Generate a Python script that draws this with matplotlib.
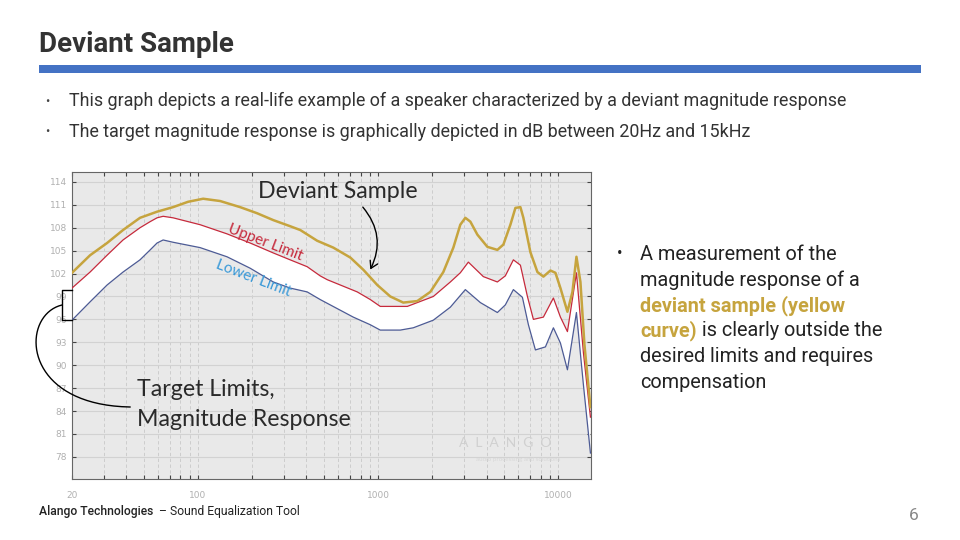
import numpy as np
import matplotlib.pyplot as plt
from matplotlib.patches import FancyArrowPatch
from matplotlib.ticker import FixedLocator, NullFormatter

# deviant sample (yellow curve)
dev_freq = [20, 25.2, 31.3, 38.4, 47.7, 59.3, 72.8, 88.2, 106.9, 132.8,
            171.5, 213, 262, 325, 370, 459, 564, 701, 828, 990,
            1169, 1380, 1650, 1950, 2302, 2617, 2860, 3050, 3252, 3557,
            4042, 4593, 4960, 5426, 5785, 6166, 6405, 7006, 7663, 8272,
            9048, 9648, 10284, 11246, 11990, 12619, 13280, 13976, 15092]
dev_db = [102.1, 104.4, 106.0, 107.7, 109.3, 110.1, 110.7, 111.4, 111.8, 111.5,
          110.7, 109.9, 109.0, 108.2, 107.7, 106.3, 105.4, 104.1, 102.5, 100.5,
          99.0, 98.2, 98.4, 99.6, 102.2, 105.4, 108.4, 109.3, 108.8, 107.1,
          105.5, 105.1, 105.8, 108.4, 110.6, 110.7, 109.3, 104.8, 102.2, 101.6,
          102.4, 102.1, 100.1, 97.0, 99.6, 104.2, 100.9, 92.7, 84.5]

# upper limit (red)
up_freq = [20, 25.2, 31.3, 38.4, 47.7, 54.3, 59.3, 64.1, 72.8, 102.8,
           145, 195, 262, 325, 404, 477, 522, 766, 905, 1028,
           1453, 2026, 2518, 2860, 3170, 3840, 4593, 5086, 5636, 6166,
           6744, 7280, 8272, 9400, 10284, 11246, 12619, 13800, 15092]
up_db = [100.1, 102.2, 104.4, 106.4, 108.0, 108.8, 109.3, 109.5, 109.3, 108.4,
         107.2, 106.0, 104.7, 103.8, 102.9, 101.7, 101.2, 99.6, 98.6, 97.7,
         97.7, 99.0, 100.9, 102.1, 103.5, 101.6, 100.9, 101.7, 103.8, 103.1,
         99.0, 96.0, 96.3, 98.8, 96.3, 94.4, 102.1, 91.6, 83.2]

# lower limit (blue)
low_freq = [20, 25.2, 31.3, 38.4, 47.7, 54.3, 59.3, 64.1, 72.8, 102.8,
            145, 195, 262, 325, 404, 477, 728, 905, 1028, 1328,
            1568, 2026, 2518, 3050, 3696, 4593, 5086, 5636, 6325, 6830,
            7470, 8490, 9400, 10284, 11246, 12619, 13800, 15092]
low_db = [95.9, 98.3, 100.5, 102.2, 103.8, 105.1, 106.0, 106.4, 106.1, 105.4,
          104.2, 102.7, 100.9, 100.1, 99.6, 98.6, 96.3, 95.3, 94.6, 94.6,
          94.9, 95.9, 97.6, 99.9, 98.2, 96.9, 97.9, 99.9, 98.9, 95.3,
          92.0, 92.4, 94.9, 92.9, 89.4, 96.9, 87.4, 78.5]

y_ticks = [78, 81, 84, 87, 90, 93, 96, 99, 102, 105, 108, 111, 114]
x_ticks = [20, 100, 1000, 10000]
x_labels = ['20', '100', '1000', '10000']

YELLOW = '#c6a43e'
RED = '#c62a3c'
BLUE = '#4d5b95'

W, H = 960, 540
fig = plt.figure(figsize=(9.6, 5.4), dpi=100)
fig.patch.set_facecolor('white')

# ---- chart ----
ax = fig.add_axes([72 / W, (H - 479) / H, 519 / W, 307 / H])
ax.set_facecolor('#e9e9e9')
ax.set_xscale('log')
ax.set_xlim(20, 15200)
ax.set_ylim(75.1, 115.3)

# white band between the limits
ax.fill(np.concatenate([up_freq, low_freq[::-1]]),
        np.concatenate([up_db, low_db[::-1]]), color='white', lw=0, zorder=1)
ax.plot(up_freq, up_db, color=RED, lw=0.9, zorder=3)
ax.plot(low_freq, low_db, color=BLUE, lw=0.9, zorder=3)
ax.plot(dev_freq, dev_db, color=YELLOW, lw=1.8, zorder=4)

ax.set_yticks(y_ticks)
ax.set_yticklabels([str(t) for t in y_ticks])
ax.set_xticks(x_ticks)
ax.set_xticklabels(x_labels)
minor = [m * d for d in (10, 100, 1000) for m in range(2, 10) if 20 < m * d < 15200]
ax.xaxis.set_minor_locator(FixedLocator(minor))
ax.xaxis.set_minor_formatter(NullFormatter())
ax.tick_params(axis='both', which='both', direction='in', top=True, right=True,
               colors='#444', labelcolor='#b0b0b0', labelsize=6.5, length=3, width=0.8)
ax.tick_params(axis='x', which='major', pad=9)
ax.grid(axis='y', which='major', color='#d2d2d2', lw=0.8, zorder=0)
ax.grid(axis='x', which='both', color='#c8c8c8', lw=0.6, ls=(0, (4, 3)), zorder=0)
ax.set_axisbelow(True)
for s in ax.spines.values():
    s.set_color('#666')
    s.set_linewidth(0.8)

# ---- overlay in pixel coords for annotations and slide text ----
ov = fig.add_axes([0, 0, 1, 1], zorder=10)
ov.set_xlim(0, W)
ov.set_ylim(H, 0)
ov.axis('off')
ov.patch.set_alpha(0)

cal = ['Lato', 'DejaVu Sans']
ov.text(338, 192, 'Deviant Sample', fontsize=16.7, color='#2a2a2a', family=cal,
        ha='center', va='center')
ov.text(265, 243, 'Upper Limit', fontsize=11, color=RED, family=cal,
        ha='center', va='center', rotation=-21)
ov.text(253, 278, 'Lower Limit', fontsize=11, color='#3b9ad8', family=cal,
        ha='center', va='center', rotation=-21)
ov.text(137, 390, 'Target Limits,', fontsize=16.7, color='#2a2a2a', family=cal,
        ha='left', va='center')
ov.text(137, 419, 'Magnitude Response', fontsize=16.7, color='#2a2a2a', family=cal,
        ha='left', va='center')
ov.text(505, 443, 'A  L  A  N  G  O', fontsize=10, color='#d0d0d0', family=cal,
        ha='center', va='center')
ov.text(518, 459, 'audio processing and solutions', fontsize=4.5, color='#d8d8d8',
        family=cal, ha='center', va='center')

arr = FancyArrowPatch((361, 205), (369, 272), connectionstyle='arc3,rad=-0.35',
                      arrowstyle='->,head_length=5,head_width=3', color='black', lw=1.0)
ov.add_patch(arr)

# bracket + curved leader for target limits
ov.plot([72, 62, 62, 72], [290, 290, 320, 320], color='black', lw=1.0)
t = np.linspace(0, 1, 40)
bx = (1 - t) ** 3 * 62 + 3 * (1 - t) ** 2 * t * 20 + 3 * (1 - t) * t ** 2 * 20 + t ** 3 * 130
by = (1 - t) ** 3 * 305 + 3 * (1 - t) ** 2 * t * 315 + 3 * (1 - t) * t ** 2 * 405 + t ** 3 * 407
ov.plot(bx, by, color='black', lw=1.0)

# slide header
rob = ['Roboto', 'DejaVu Sans']
ov.text(39, 44, 'Deviant Sample', fontsize=20, fontweight='bold', color='#333333',
        family=rob, ha='left', va='center')
ov.add_patch(plt.Rectangle((39, 65), 882, 8, color='#4472c4', lw=0))
ov.text(45, 101, '•', fontsize=9, color='#444', family=rob, va='center')
ov.text(69, 101, 'This graph depicts a real-life example of a speaker characterized by a deviant magnitude response',
        fontsize=12.9, color='#333333', family=rob, ha='left', va='center')
ov.text(45, 132, '•', fontsize=9, color='#444', family=rob, va='center')
ov.text(69, 132, 'The target magnitude response is graphically depicted in dB between 20Hz and 15kHz',
        fontsize=12.9, color='#333333', family=rob, ha='left', va='center')

# right hand bullet
fs = 14.3
ov.text(617, 254, '•', fontsize=12, color='#222', family=rob, va='center')
rx = 640
ov.text(rx, 254, 'A measurement of the', fontsize=fs, color='#222', family=rob, va='center')
ov.text(rx, 280, 'magnitude response of a', fontsize=fs, color='#222', family=rob, va='center')
ov.text(rx, 306, 'deviant sample (yellow', fontsize=fs, color=YELLOW, fontweight='bold',
        family=rob, va='center')
c = ov.text(rx, 331, 'curve)', fontsize=fs, color=YELLOW, fontweight='bold',
            family=rob, va='center')
ov.annotate(' is clearly outside the', xycoords=c, xy=(1, 0.5), va='center',
            fontsize=fs, color='#222', family=rob)
ov.text(rx, 357, 'desired limits and requires', fontsize=fs, color='#222', family=rob, va='center')
ov.text(rx, 383, 'compensation', fontsize=fs, color='#222', family=rob, va='center')

# footer
f1 = ov.text(39, 511, 'Alango Technologies', fontsize=8.7, fontweight='medium',
             color='#222', family=rob, va='center')
ov.annotate('  \u2013 Sound Equalization Tool', xycoords=f1, xy=(1, 0.5), va='center',
            fontsize=8.7, color='#222', family=rob)
ov.text(919, 515, '6', fontsize=12.5, color='#888', family=rob, ha='right', va='center')

fig.savefig('out.png', dpi=100)
